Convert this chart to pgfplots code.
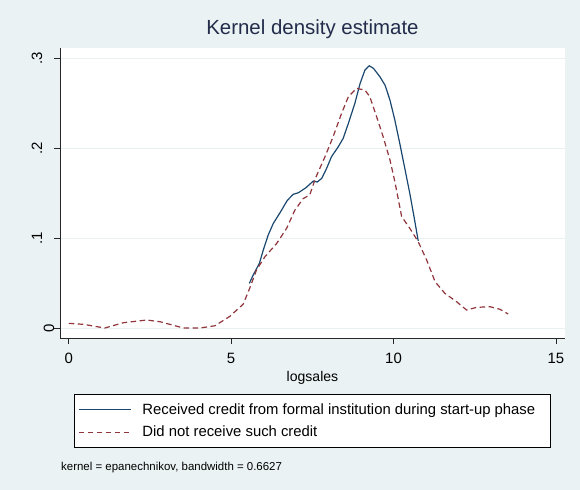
\documentclass[border=0pt]{standalone}
\usepackage{pgfplots}
\pgfplotsset{compat=1.18}
\usepackage{fontspec}
\setmainfont{Liberation Sans}
\definecolor{bgc}{RGB}{234,242,243}
\definecolor{gridc}{RGB}{232,240,242}
\definecolor{navyc}{RGB}{26,71,111}
\definecolor{maroonc}{RGB}{144,53,59}
\definecolor{titlec}{RGB}{35,45,75}
\begin{document}
\begin{tikzpicture}
\useasboundingbox (0bp,0bp) rectangle (580bp,490bp);
\fill[bgc] (0bp,0bp) rectangle (580bp,490bp);
\begin{axis}[
  at={(60bp,152bp)}, anchor=south west,
  scale only axis, width=505bp, height=290bp,
  xmin=-0.27, xmax=15.28, ymin=-0.0111, ymax=0.3115,
  axis background/.style={fill=white},
  axis x line*=bottom, axis y line*=left,
  axis line style={-, black!85, line width=0.8bp},
  xtick={0,5,10,15},
  ytick={0,0.1,0.2,0.3},
  yticklabels={\raisebox{-12bp}{0},.1,.2,.3},
  tick align=outside, major tick length=6bp,
  tick style={black!85, line width=0.8bp},
  ymajorgrids, grid style={gridc, line width=0.8bp},
  /pgf/number format/assume math mode=true,
  ticklabel style={font=\fontsize{15}{17}\selectfont},
  xticklabel style={anchor=base},
  yticklabel style={rotate=90, anchor=base},
  xticklabel shift=20bp,
  yticklabel shift=12bp,
  title={Kernel density estimate},
  title style={at={(axis description cs:0.5,1)}, anchor=base, yshift=8bp, font=\fontsize{20.5}{24}\selectfont, text=titlec},
  xlabel={logsales},
  x label style={at={(axis description cs:0.5,0)}, anchor=base, yshift=-43bp, font=\fontsize{14.1}{17}\selectfont},
  legend style={at={(axis description cs:0.0277,-0.193)}, anchor=north west, draw=black, fill=white, line width=0.6bp, font=\fontsize{14.9}{17}\selectfont, inner xsep=4bp, inner ysep=7.5bp, row sep=6bp, column sep=9bp, cells={anchor=west}},
  legend cell align=left,
  legend image code/.code={\draw[#1, line width=1.2bp] (0bp,0bp) -- (52bp,0bp);},
]
\addplot[navyc, line width=1.2bp, line join=round] coordinates {
(5.56,0.0497) (5.68,0.059) (5.87,0.072) (5.99,0.0868) (6.14,0.1034) (6.30,0.1165)
(6.50,0.128) (6.73,0.142) (6.91,0.1487) (7.07,0.1505) (7.30,0.156) (7.53,0.1635)
(7.65,0.1624) (7.79,0.1665) (7.94,0.1776) (8.09,0.1906) (8.30,0.2017) (8.45,0.211)
(8.61,0.2277) (8.81,0.25) (8.97,0.272) (9.12,0.287) (9.25,0.2918) (9.38,0.2889)
(9.58,0.2796) (9.74,0.270) (9.89,0.2536) (10.04,0.2314) (10.20,0.204) (10.35,0.177)
(10.50,0.150) (10.63,0.124) (10.76,0.097)
};
\addlegendentry{\makebox[402bp][l]{Received credit from formal institution during start-up phase}}
\addplot[maroonc, line width=1.2bp, line join=round, dash pattern=on 5.5bp off 3.5bp] coordinates {
(0.00,0.0052) (0.45,0.0041) (1.11,0.0) (1.68,0.0059) (2.40,0.0089) (2.81,0.007)
(3.53,0.0) (4.04,0.0) (4.50,0.0025) (4.96,0.013) (5.37,0.0265) (5.58,0.045)
(5.78,0.0645) (6.04,0.0793) (6.40,0.094) (6.71,0.111) (6.96,0.131) (7.22,0.144)
(7.42,0.148) (7.60,0.167) (7.89,0.1906) (8.14,0.2128) (8.40,0.2388) (8.61,0.2573)
(8.86,0.2666) (9.12,0.2647) (9.27,0.2573) (9.48,0.235) (9.68,0.2128) (9.89,0.187)
(10.04,0.163) (10.25,0.124) (10.50,0.111) (10.76,0.096) (11.02,0.0756) (11.28,0.0515)
(11.58,0.0386) (11.94,0.0293) (12.25,0.020) (12.56,0.023) (12.97,0.0237) (13.28,0.0208)
(13.53,0.0156)
};
\addlegendentry{Did not receive such credit}
\end{axis}
\node[anchor=base west, font=\fontsize{11.5}{13}\selectfont, inner sep=0pt] at (61bp,20bp) {kernel = epanechnikov, bandwidth = 0.6627};
\end{tikzpicture}
\end{document}
